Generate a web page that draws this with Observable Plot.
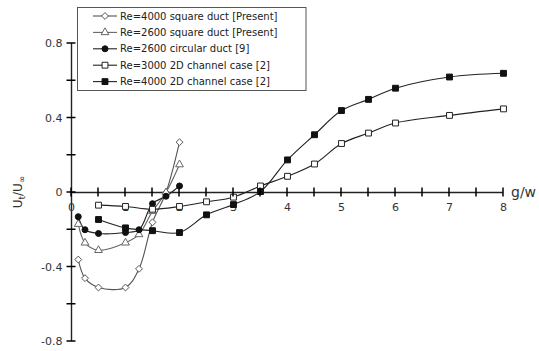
<!DOCTYPE html>
<html>
<head>
<meta charset="utf-8">
<script src="https://cdn.jsdelivr.net/npm/d3@7"></script>
<script src="https://cdn.jsdelivr.net/npm/@observablehq/plot@0.6"></script>
<style>
  html, body { margin: 0; padding: 0; background: #fff; }
  #chart { width: 539px; height: 351px; }
</style>
</head>
<body>
<div id="chart"></div>
<script>
// ---- Data ----
const seriesNames = [
  "Re=4000 square duct [Present]",
  "Re=2600 square duct [Present]",
  "Re=2600 circular duct [9]",
  "Re=3000 2D channel case [2]",
  "Re=4000 2D channel case [2]"
];
const ductG = [0.125, 0.25, 0.5, 1.0, 1.25, 1.5, 1.75, 2.0];
const sq4000U = [-0.36, -0.46, -0.51, -0.51, -0.41, -0.16, 0.0, 0.27];
const sq2600U = [-0.17, -0.27, -0.31, -0.27, -0.225, -0.10, 0.0, 0.15];
const circ2600U = [-0.13, -0.20, -0.22, -0.215, -0.20, -0.06, -0.02, 0.035];
const channelG = [0.5, 1.0, 1.5, 2.0, 2.5, 3.0, 3.5, 4.0, 4.5, 5.0, 5.5, 6.0, 7.0, 8.0];
const ch3000U = [-0.068, -0.075, -0.09, -0.075, -0.05, -0.025, 0.035, 0.087, 0.153, 0.263, 0.319, 0.373, 0.414, 0.449];
const ch4000U = [-0.145, -0.19, -0.205, -0.215, -0.12, -0.065, 0.005, 0.175, 0.31, 0.44, 0.50, 0.56, 0.62, 0.64];

const xTicks = [0, 0.5, 1, 1.5, 2, 2.5, 3, 3.5, 4, 4.5, 5, 5.5, 6, 6.5, 7, 7.5, 8];
const xLabels = [0, 1, 2, 3, 4, 5, 6, 7, 8];
const yTicks = [-0.8, -0.6, -0.4, -0.2, 0, 0.2, 0.4, 0.6, 0.8];
const yLabels = [-0.8, -0.4, 0, 0.4, 0.8];

// ---- Styles ----
const styles = [
  {symbol: "diamond2", fill: "#fff", stroke: "#555", line: "#555", r: 3.1},
  {symbol: "triangle", fill: "#fff", stroke: "#666", line: "#666", r: 2.9},
  {symbol: "circle", fill: "#111", stroke: "#111", line: "#222", r: 3},
  {symbol: "square", fill: "#fff", stroke: "#222", line: "#222", r: 3.3},
  {symbol: "square", fill: "#111", stroke: "#111", line: "#222", r: 3.3}
];
const gs = [ductG, ductG, ductG, channelG, channelG];
const us = [sq4000U, sq2600U, circ2600U, ch3000U, ch4000U];
const series = us.map((u, i) => u.map((v, j) => ({g: gs[i][j], u: v})));

const font = "DejaVu Sans, Verdana, sans-serif";
const marks = [
  Plot.ruleY([0], {x1: 0, x2: 8, stroke: "#222", strokeWidth: 1.4}),
  Plot.ruleX([0], {y1: -0.8, y2: 0.8, stroke: "#222", strokeWidth: 1.4}),
  Plot.text(xLabels, {x: d => d, y: 0, dy: 15, text: d => String(d), fontSize: 11, fill: "#333"}),
  Plot.text(yLabels, {x: 0, y: d => d, dx: -9, textAnchor: "end", text: d => d === 0 ? "0" : (d < 0 ? "-" : "") + Math.abs(d).toFixed(1), fontSize: 11, fill: "#333"})
];
series.forEach((data, i) => {
  const s = styles[i];
  marks.push(Plot.line(data, {x: "g", y: "u", stroke: s.line, strokeWidth: 1.1, curve: "catmull-rom"}));
});
series.forEach((data, i) => {
  const s = styles[i];
  marks.push(Plot.dot(data, {x: "g", y: "u", symbol: () => s.symbol, r: s.r, fill: s.fill, stroke: s.stroke, strokeWidth: 1}));
});

const chart = Plot.plot({
  width: 539,
  height: 351,
  marginLeft: 71,
  marginRight: 36,
  marginTop: 43,
  marginBottom: 10,
  style: {fontFamily: font, background: "#fff"},
  x: {domain: [0, 8], axis: null},
  y: {domain: [-0.8, 0.8], axis: null},
  marks
});
document.getElementById("chart").appendChild(chart);

// ---- Tick marks through the plot's scales ----
const svg = d3.select(chart);
const xs = chart.scale("x"), ysc = chart.scale("y");
const x0 = xs.apply(0), y0 = ysc.apply(0);
const tg = svg.append("g").attr("stroke", "#000").attr("stroke-width", 1.5).attr("fill", "none");
xTicks.forEach(v => {
  const px = xs.apply(v);
  tg.append("line").attr("x1", px).attr("x2", px).attr("y1", y0 - 4.5).attr("y2", y0 + 4.5);
});
yTicks.forEach(v => {
  const py = ysc.apply(v);
  tg.append("line").attr("x1", x0 - 4.5).attr("x2", x0 + 4.5).attr("y1", py).attr("y2", py);
});

// ---- Axis titles and legend ----
svg.append("text")
  .attr("x", xs.apply(8) + 8).attr("y", y0 + 5)
  .attr("text-anchor", "start")
  .attr("font-size", 14).attr("font-family", font).attr("fill", "#333")
  .text("g/w");
const yl = svg.append("text")
  .attr("transform", `translate(22,${y0}) rotate(-90)`)
  .attr("text-anchor", "middle")
  .attr("font-size", 12).attr("font-family", font).attr("fill", "#333");
yl.append("tspan").text("U");
yl.append("tspan").attr("font-size", 9).attr("dy", 3).text("t");
yl.append("tspan").attr("dy", -3).text("/U");
yl.append("tspan").attr("font-size", 9).attr("dy", 3).text("∞");

const lg = svg.append("g");
lg.append("rect").attr("x", 77.5).attr("y", 7.5).attr("width", 228.5).attr("height", 83)
  .attr("fill", "#fff").attr("stroke", "#555").attr("stroke-width", 1);
const symMap = {diamond2: d3.symbolDiamond2, triangle: d3.symbolTriangle, circle: d3.symbolCircle, square: d3.symbolSquare};
seriesNames.forEach((name, i) => {
  const s = styles[i];
  const y = 16 + i * 16.4;
  lg.append("line").attr("x1", 93).attr("x2", 117).attr("y1", y).attr("y2", y)
    .attr("stroke", s.line).attr("stroke-width", 1.1);
  lg.append("path").attr("transform", `translate(105,${y})`)
    .attr("d", d3.symbol(symMap[s.symbol], Math.PI * s.r * s.r)())
    .attr("fill", s.fill).attr("stroke", s.stroke).attr("stroke-width", 1);
  lg.append("text").attr("x", 120).attr("y", y + 3.6)
    .attr("text-anchor", "start")
    .attr("font-size", 10).attr("font-family", font).attr("fill", "#222")
    .text(name);
});
</script>
</body>
</html>
